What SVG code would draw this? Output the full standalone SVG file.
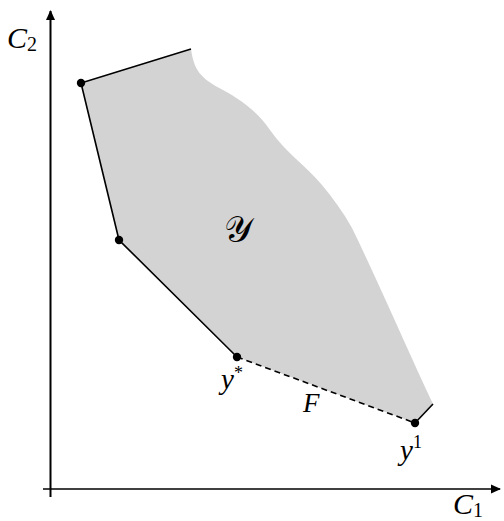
<svg xmlns="http://www.w3.org/2000/svg" width="504" height="521" viewBox="0 0 504 521">
<style>
.lbl{font-family:"Liberation Serif","DejaVu Serif",serif;font-style:italic;fill:#000}
.edge{stroke:#000;stroke-width:1.6;fill:none}
.dot{fill:#000}
</style>
<defs>
<marker id="arr" markerWidth="10" markerHeight="10" refX="9" refY="5" orient="auto" markerUnits="userSpaceOnUse"><path d="M0,0.5 L10,5 L0,9.5 Z" fill="#000"/></marker>
</defs>
<g id="region">
<path d="M81,83 L191,49 C194,70 200,78 223,90 C245,102 260,115 270,130 C285,152 305,165 322,185 C333,198 343,212 352,228 C375,275 410,355 433,404 L415,423 L237,357 L119,240 Z" fill="#d3d3d3" stroke="none"/>
</g>
<g id="axes">
<line x1="50.5" y1="497" x2="50.5" y2="11" stroke="#000" stroke-width="2" marker-end="url(#arr)"/>
<line x1="43" y1="489" x2="500" y2="489" stroke="#000" stroke-width="1.6" marker-end="url(#arr)"/>
</g>
<g id="connectors">
<polyline class="edge" points="191,49 81,83 119,240 237,357"/>
<line class="edge" x1="237" y1="357" x2="415" y2="423" stroke-dasharray="6,4"/>
<line class="edge" x1="415" y1="423" x2="433" y2="404"/>
</g>
<g id="p1"><circle class="dot" cx="81" cy="83" r="4.2"/></g>
<g id="p2"><circle class="dot" cx="119" cy="240" r="4.2"/></g>
<g id="ystar"><circle class="dot" cx="237" cy="357" r="4.2"/><text class="lbl" x="221" y="389" font-size="29">y<tspan font-size="18" dy="-10" font-style="normal">*</tspan></text></g>
<g id="y1"><circle class="dot" cx="415" cy="423" r="4.2"/><text class="lbl" x="400" y="460" font-size="29">y<tspan font-size="18" dy="-12" font-style="normal">1</tspan></text></g>
<g id="F"><text class="lbl" x="303" y="412" font-size="27">F</text></g>
<g id="Y"><text x="224" y="242" font-size="36" font-family="DejaVu Serif,DejaVu Sans,serif">𝒴</text></g>
<g id="labels">
<text class="lbl" x="7" y="48" font-size="30">C<tspan font-size="20" dy="3" font-style="normal">2</tspan></text>
<text class="lbl" x="453" y="514" font-size="30">C<tspan font-size="20" dy="3" font-style="normal">1</tspan></text>
</g>
</svg>
